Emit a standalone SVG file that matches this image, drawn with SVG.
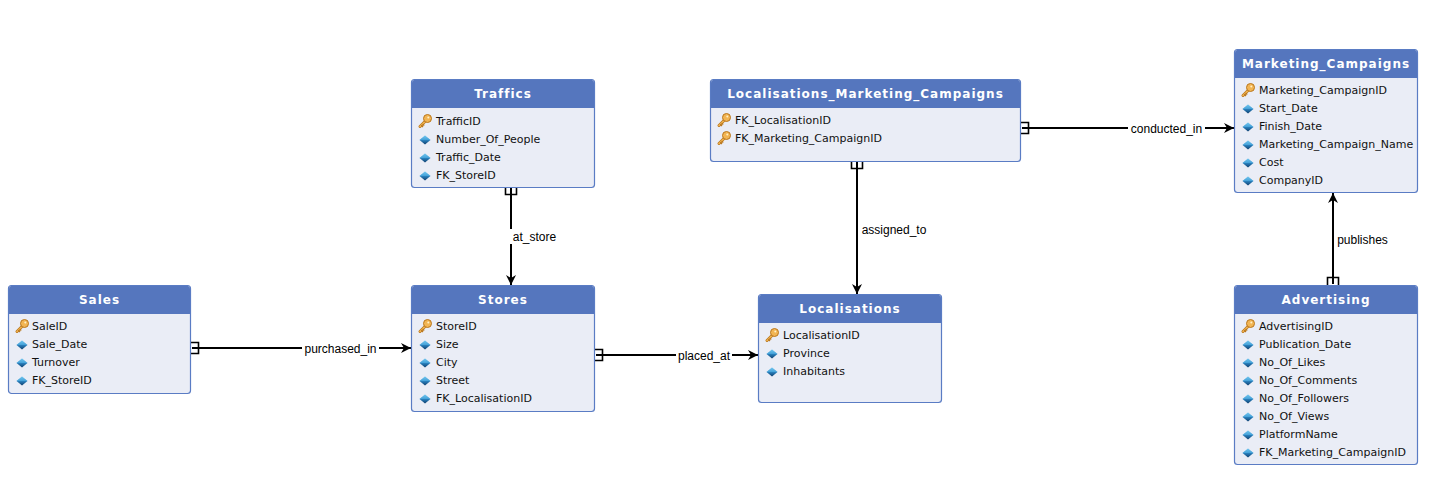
<svg xmlns="http://www.w3.org/2000/svg" width="1440" height="477" viewBox="0 0 1440 477">
<style>
.box{fill:#EAEDF6;stroke:#5A7CC4;stroke-width:1.2}
.hdr{fill:#5576BE}
.title{font-family:"DejaVu Sans",Verdana,sans-serif;font-weight:bold;font-size:12px;fill:#ffffff;text-anchor:middle;letter-spacing:1px}
.row{font-family:"DejaVu Sans",Verdana,sans-serif;font-size:11px;fill:#111111}
.lbl{font-family:"Liberation Sans",Arial,sans-serif;font-size:12px;fill:#000000;text-anchor:middle}
.edge{stroke:#000000;stroke-width:2;fill:none}
.one{stroke:#000000;stroke-width:1.6;fill:none}
.bg{fill:#ffffff}
</style>
<defs>
<linearGradient id="dg" x1="0" y1="0" x2="0" y2="1">
<stop offset="0" stop-color="#8AD6F7"/>
<stop offset="0.45" stop-color="#2D8BC9"/>
<stop offset="1" stop-color="#0F3E6E"/>
</linearGradient>
<symbol id="dia" viewBox="-7 -7 14 14" overflow="visible">
<polygon points="0,-4.5 5.5,0 0,4.5 -5.5,0" fill="url(#dg)"/>
<polygon points="0,-4.5 5.5,0 -5.5,0" fill="#5CB8E8" opacity="0.55"/>
</symbol>
<symbol id="key" viewBox="-7 -7 14 14" overflow="visible">
<line x1="-5" y1="5.5" x2="1" y2="-0.5" stroke="#B9771E" stroke-width="3" stroke-linecap="round"/>
<line x1="-5" y1="5.5" x2="1" y2="-0.5" stroke="#F2B553" stroke-width="1.6" stroke-linecap="round"/>
<line x1="-3.8" y1="4.3" x2="-2" y2="6" stroke="#B9771E" stroke-width="1.3"/>
<line x1="-2.4" y1="2.9" x2="-0.8" y2="4.5" stroke="#B9771E" stroke-width="1.3"/>
<circle cx="2.5" cy="-2.5" r="4" fill="#F2B553" stroke="#B9771E" stroke-width="1"/>
<circle cx="3.3" cy="-3.4" r="1" fill="#FFF1C8"/>
</symbol>
<marker id="arr" viewBox="0 0 10 10" refX="10" refY="5" markerWidth="5" markerHeight="5" orient="auto" markerUnits="strokeWidth">
<path d="M0,0 L10,5 L0,10 L3,5 z" fill="#000000"/>
</marker>
</defs>

<g id="connectors">
<g id="e-at_store">
<line class="edge" x1="511" y1="188" x2="511" y2="285" marker-end="url(#arr)"/>
<path class="one" d="M505.5,187 V194.5 H516.5 V187"/>
<rect class="bg" x="510" y="229" width="48" height="15"/>
<text class="lbl" x="534.5" y="241">at_store</text>
</g>
<g id="e-purchased_in">
<line class="edge" x1="192" y1="348" x2="411" y2="348" marker-end="url(#arr)"/>
<path class="one" d="M191,342.5 H198.5 V353.5 H191"/>
<rect class="bg" x="302" y="341" width="77" height="15"/>
<text class="lbl" x="340.5" y="352.5">purchased_in</text>
</g>
<g id="e-placed_at">
<line class="edge" x1="596" y1="355" x2="758" y2="355" marker-end="url(#arr)"/>
<path class="one" d="M595,349.5 H602.5 V360.5 H595"/>
<rect class="bg" x="676" y="348" width="56" height="15"/>
<text class="lbl" x="704" y="359.5">placed_at</text>
</g>
<g id="e-assigned_to">
<line class="edge" x1="857" y1="162" x2="857" y2="294" marker-end="url(#arr)"/>
<path class="one" d="M851.5,161 V168.5 H862.5 V161"/>
<rect class="bg" x="858" y="222" width="72" height="15"/>
<text class="lbl" x="894" y="234">assigned_to</text>
</g>
<g id="e-conducted_in">
<line class="edge" x1="1022" y1="128" x2="1234" y2="128" marker-end="url(#arr)"/>
<path class="one" d="M1021,122.5 H1028.5 V133.5 H1021"/>
<rect class="bg" x="1128" y="121" width="77" height="15"/>
<text class="lbl" x="1166.5" y="132.5">conducted_in</text>
</g>
<g id="e-publishes">
<line class="edge" x1="1333" y1="284" x2="1333" y2="193" marker-end="url(#arr)"/>
<path class="one" d="M1327.5,285 V277.5 H1338.5 V285"/>
<rect class="bg" x="1335" y="232" width="56" height="15"/>
<text class="lbl" x="1362.5" y="244">publishes</text>
</g>
</g>

<g id="traffics">
<rect class="box" x="411.5" y="79.5" width="183" height="108" rx="3"/>
<path class="hdr" d="M414.5,80 H591.5 Q594,80 594,83 V108 H412 V83 Q412,80 414.5,80 Z"/>
<text class="title" x="503" y="98">Traffics</text>
<use href="#key" x="418" y="114" width="14" height="14"/>
<text class="row" x="436" y="125">TrafficID</text>
<use href="#dia" x="418" y="133" width="14" height="14"/>
<text class="row" x="436" y="143">Number_Of_People</text>
<use href="#dia" x="418" y="151" width="14" height="14"/>
<text class="row" x="436" y="161">Traffic_Date</text>
<use href="#dia" x="418" y="169" width="14" height="14"/>
<text class="row" x="436" y="179">FK_StoreID</text>
</g>

<g id="sales">
<rect class="box" x="8.5" y="285.5" width="182" height="108" rx="3"/>
<path class="hdr" d="M11.5,286 H187.5 Q190,286 190,289 V314 H9 V289 Q9,286 11.5,286 Z"/>
<text class="title" x="99.5" y="304">Sales</text>
<use href="#key" x="15" y="319" width="14" height="14"/>
<text class="row" x="32" y="330">SaleID</text>
<use href="#dia" x="15" y="338" width="14" height="14"/>
<text class="row" x="32" y="348">Sale_Date</text>
<use href="#dia" x="15" y="356" width="14" height="14"/>
<text class="row" x="32" y="366">Turnover</text>
<use href="#dia" x="15" y="374" width="14" height="14"/>
<text class="row" x="32" y="384">FK_StoreID</text>
</g>

<g id="stores">
<rect class="box" x="411.5" y="285.5" width="183" height="126" rx="3"/>
<path class="hdr" d="M414.5,286 H591.5 Q594,286 594,289 V314 H412 V289 Q412,286 414.5,286 Z"/>
<text class="title" x="503" y="304">Stores</text>
<use href="#key" x="418" y="319" width="14" height="14"/>
<text class="row" x="436" y="330">StoreID</text>
<use href="#dia" x="418" y="338" width="14" height="14"/>
<text class="row" x="436" y="348">Size</text>
<use href="#dia" x="418" y="356" width="14" height="14"/>
<text class="row" x="436" y="366">City</text>
<use href="#dia" x="418" y="374" width="14" height="14"/>
<text class="row" x="436" y="384">Street</text>
<use href="#dia" x="418" y="392" width="14" height="14"/>
<text class="row" x="436" y="402">FK_LocalisationID</text>
</g>

<g id="localisations">
<rect class="box" x="758.5" y="294.5" width="183" height="108" rx="3"/>
<path class="hdr" d="M761.5,295 H938.5 Q941,295 941,298 V323 H759 V298 Q759,295 761.5,295 Z"/>
<text class="title" x="850" y="313">Localisations</text>
<use href="#key" x="765" y="328" width="14" height="14"/>
<text class="row" x="783" y="339">LocalisationID</text>
<use href="#dia" x="765" y="347" width="14" height="14"/>
<text class="row" x="783" y="357">Province</text>
<use href="#dia" x="765" y="365" width="14" height="14"/>
<text class="row" x="783" y="375">Inhabitants</text>
</g>

<g id="localisations_marketing_campaigns">
<rect class="box" x="710.5" y="79.5" width="310" height="82" rx="3"/>
<path class="hdr" d="M713.5,80 H1017.5 Q1020,80 1020,83 V108 H711 V83 Q711,80 713.5,80 Z"/>
<text class="title" x="865.5" y="98">Localisations_Marketing_Campaigns</text>
<use href="#key" x="717" y="113" width="14" height="14"/>
<text class="row" x="735" y="124">FK_LocalisationID</text>
<use href="#key" x="717" y="131" width="14" height="14"/>
<text class="row" x="735" y="142">FK_Marketing_CampaignID</text>
</g>

<g id="marketing_campaigns">
<rect class="box" x="1234.5" y="49.5" width="183" height="143" rx="3"/>
<path class="hdr" d="M1237.5,50 H1414.5 Q1417,50 1417,53 V78 H1235 V53 Q1235,50 1237.5,50 Z"/>
<text class="title" x="1326" y="68">Marketing_Campaigns</text>
<use href="#key" x="1241" y="83" width="14" height="14"/>
<text class="row" x="1259" y="94">Marketing_CampaignID</text>
<use href="#dia" x="1241" y="102" width="14" height="14"/>
<text class="row" x="1259" y="112">Start_Date</text>
<use href="#dia" x="1241" y="120" width="14" height="14"/>
<text class="row" x="1259" y="130">Finish_Date</text>
<use href="#dia" x="1241" y="138" width="14" height="14"/>
<text class="row" x="1259" y="148">Marketing_Campaign_Name</text>
<use href="#dia" x="1241" y="156" width="14" height="14"/>
<text class="row" x="1259" y="166">Cost</text>
<use href="#dia" x="1241" y="174" width="14" height="14"/>
<text class="row" x="1259" y="184">CompanyID</text>
</g>

<g id="advertising">
<rect class="box" x="1234.5" y="285.5" width="183" height="179" rx="3"/>
<path class="hdr" d="M1237.5,286 H1414.5 Q1417,286 1417,289 V314 H1235 V289 Q1235,286 1237.5,286 Z"/>
<text class="title" x="1326" y="304">Advertising</text>
<use href="#key" x="1241" y="319" width="14" height="14"/>
<text class="row" x="1259" y="330">AdvertisingID</text>
<use href="#dia" x="1241" y="338" width="14" height="14"/>
<text class="row" x="1259" y="348">Publication_Date</text>
<use href="#dia" x="1241" y="356" width="14" height="14"/>
<text class="row" x="1259" y="366">No_Of_Likes</text>
<use href="#dia" x="1241" y="374" width="14" height="14"/>
<text class="row" x="1259" y="384">No_Of_Comments</text>
<use href="#dia" x="1241" y="392" width="14" height="14"/>
<text class="row" x="1259" y="402">No_Of_Followers</text>
<use href="#dia" x="1241" y="410" width="14" height="14"/>
<text class="row" x="1259" y="420">No_Of_Views</text>
<use href="#dia" x="1241" y="428" width="14" height="14"/>
<text class="row" x="1259" y="438">PlatformName</text>
<use href="#dia" x="1241" y="446" width="14" height="14"/>
<text class="row" x="1259" y="456">FK_Marketing_CampaignID</text>
</g>
</svg>
